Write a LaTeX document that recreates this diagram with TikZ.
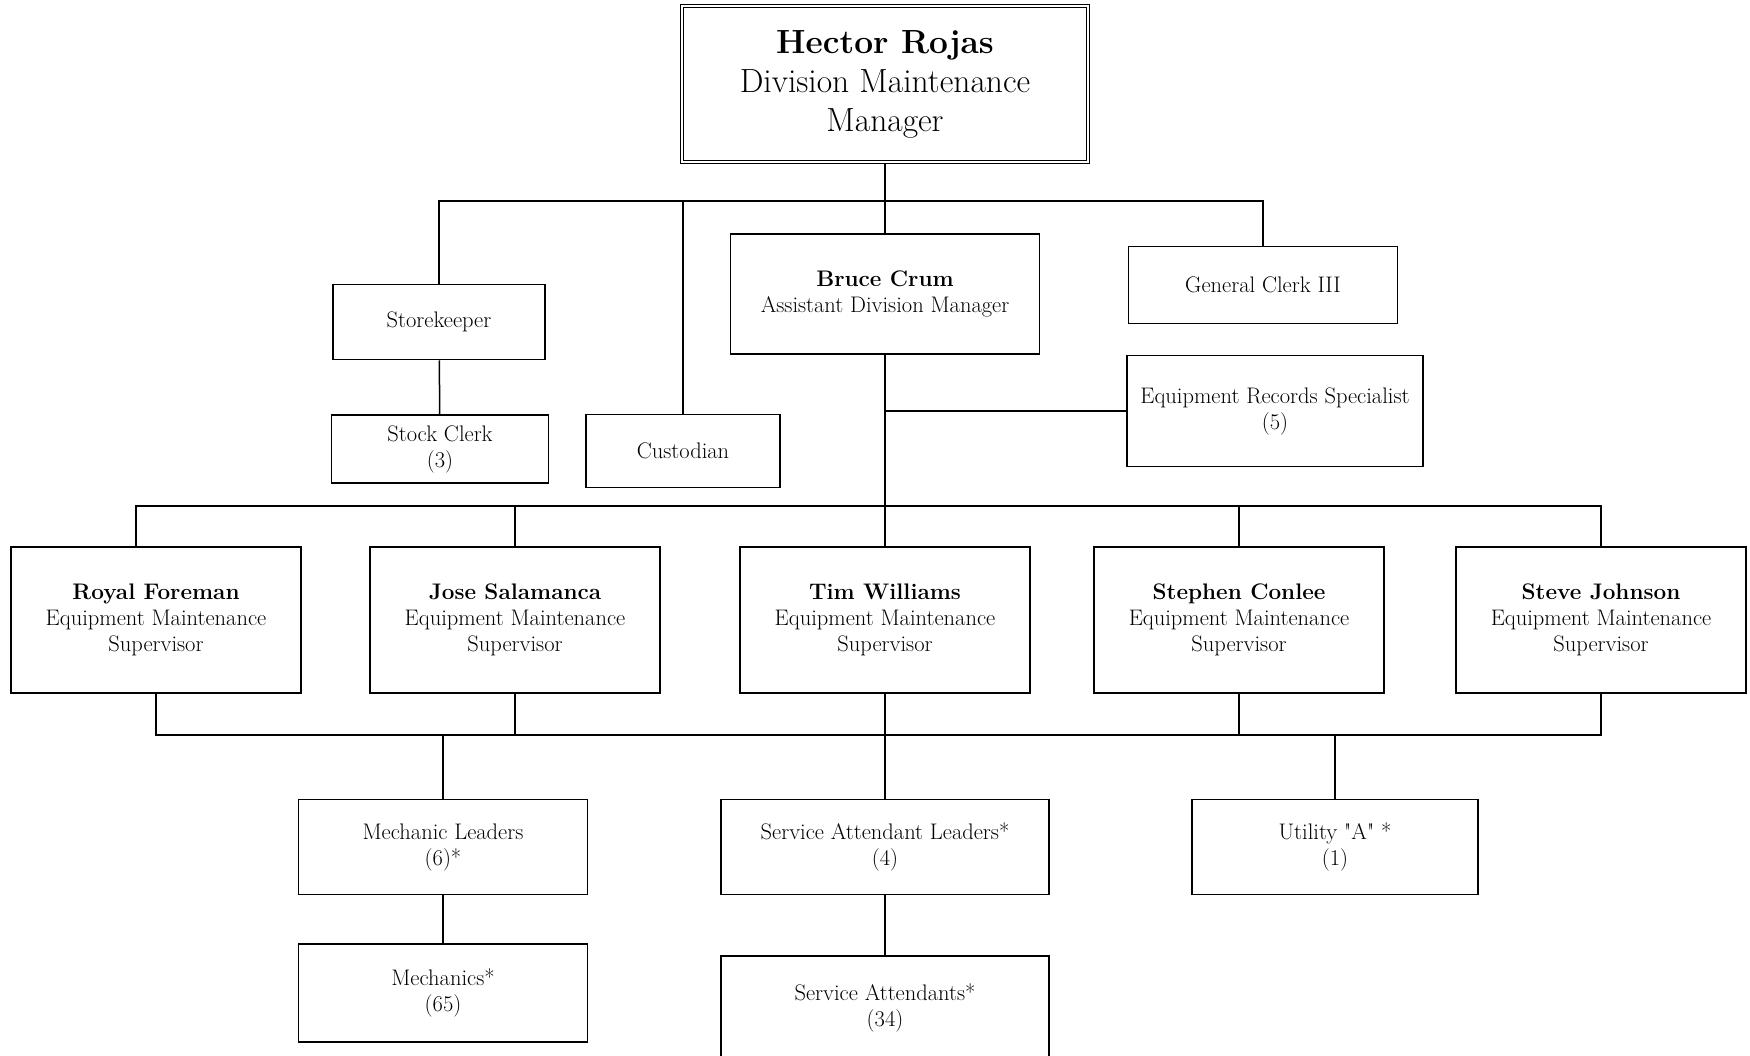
\documentclass[tikz,border=0pt]{standalone}
\usepackage{fontspec}
\newcommand{\orgfont}{\fontsize{22.5}{26}\selectfont}
\newcommand{\headfont}{\fontsize{33.5}{39}\selectfont}
\begin{document}
\begin{tikzpicture}[
                x=1pt, y=-1pt,
                box/.style={draw=black, line width=1.6pt, align=center,
                    inner sep=0pt, font=\orgfont},
                headbox/.style={draw=black, double, double distance=2.5pt,
                    line width=1.2pt, align=center, inner sep=0pt, font=\headfont},
                supbox/.style={box, minimum width=290, minimum height=146},
                link/.style={draw=black, line width=1.5pt}]
        \useasboundingbox (0,0) rectangle (1750,1055);

        % Manager and his direct staff.
        \node[headbox, minimum width=406, minimum height=156] (rojas) at (885,84)
                {\textbf{Hector Rojas}\\Division Maintenance\\Manager};
        \node[box, minimum width=212, minimum height=75] (store) at (439,322) {Storekeeper};
        \node[box, minimum width=217, minimum height=68] (stock) at (440,449) {Stock Clerk\\(3)};
        \node[box, minimum width=194, minimum height=73] (cust) at (683,451) {Custodian};
        \node[box, minimum width=309, minimum height=120] (crum) at (885,294)
                {\textbf{Bruce Crum}\\Assistant Division Manager};
        \node[box, minimum width=269, minimum height=77] (clerk) at (1263,285) {General Clerk III};
        \node[box, minimum width=296, minimum height=111] (records) at (1275,411)
                {Equipment Records Specialist\\(5)};

        % Equipment maintenance supervisors.
        \foreach \nm/\who/\cx in {royal/Royal Foreman/156, jose/Jose Salamanca/515,
                tim/Tim Williams/885, stephen/Stephen Conlee/1239, steve/Steve Johnson/1601} {
                \node[supbox] (\nm) at (\cx,620) {\textbf{\who}\\Equipment Maintenance\\Supervisor};
        }

        % Crews.
        \node[box, minimum width=289, minimum height=95] (leaders) at (443,847) {Mechanic Leaders\\(6)*};
        \node[box, minimum width=328, minimum height=95] (sal) at (885,847) {Service Attendant Leaders*\\(4)};
        \node[box, minimum width=286, minimum height=95] (utility) at (1335,847)
                {Utility \textquotedbl A\textquotedbl{} *\\(1)};
        \node[box, minimum width=289, minimum height=98] (mechanics) at (443,993) {Mechanics*\\(65)};
        \node[box, minimum width=328, minimum height=104] (attendants) at (885,1008) {Service Attendants*\\(34)};

        % Connectors.
        \coordinate (topbus) at (885,201);
        \coordinate (supbus) at (885,506);
        \coordinate (crewbus) at (885,735);
        \draw[link] (rojas.south) -- (crum.north);
        \draw[link] (store.north) |- (topbus) -| (clerk.north);
        \draw[link] (cust.north) |- (topbus);
        \draw[link] (store) -- (stock);
        \draw[link] (records.west) -| (crum.south);
        \draw[link] (crum.south) -- (supbus);
        \draw[link] ([xshift=-20pt]royal.north) |- (supbus) -| (steve.north);
        \draw[link] (jose.north) |- (supbus);
        \draw[link] (stephen.north) |- (supbus);
        \draw[link] (supbus) -- (tim.north);
        \draw[link] (royal.south) |- (crewbus) -| (steve.south);
        \draw[link] (jose.south) |- (crewbus);
        \draw[link] (stephen.south) |- (crewbus);
        \draw[link] (tim.south) -- (sal.north);
        \draw[link] (leaders.north) |- (crewbus);
        \draw[link] (utility.north) |- (crewbus);
        \draw[link] (leaders) -- (mechanics);
        \draw[link] (sal) -- (attendants);
\end{tikzpicture}
\end{document}
